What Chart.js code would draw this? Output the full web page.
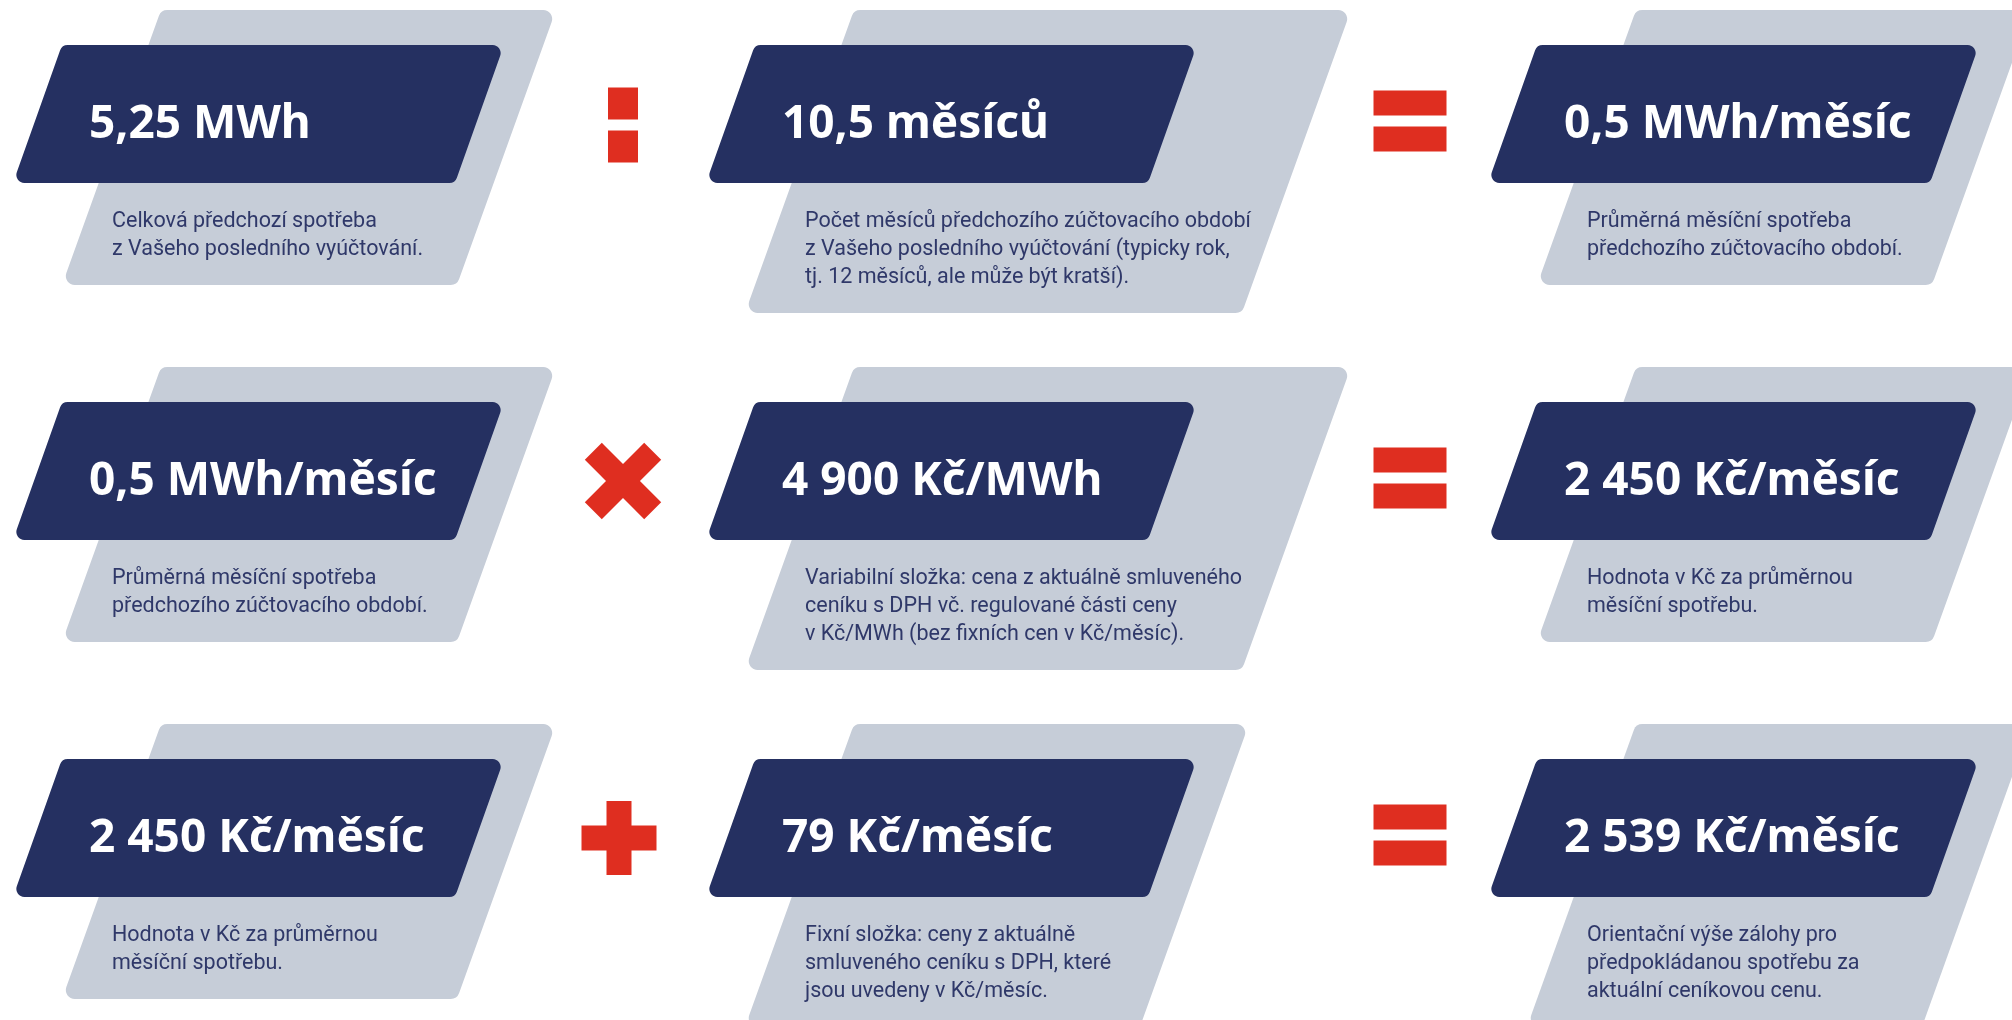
<!DOCTYPE html>
<html lang="cs">
<head>
<meta charset="utf-8">
<title>Výpočet zálohy</title>
<script src="https://cdn.jsdelivr.net/npm/chart.js@4.4.1/dist/chart.umd.min.js"></script>
<style>
  html, body { margin: 0; padding: 0; background: #ffffff; }
  #wrap { width: 2012px; height: 1020px; }
</style>
</head>
<body>
<div id="wrap"><canvas id="chart" width="2012" height="1020"></canvas></div>
<script>
// hodnoty po řádcích: vstup (operátor) činitel = výsledek
const inputs = ['5,25 MWh', '0,5 MWh/měsíc', '2 450 Kč/měsíc'];
const factors = ['10,5 měsíců', '4 900 Kč/MWh', '79 Kč/měsíc'];
const results = ['0,5 MWh/měsíc', '2 450 Kč/měsíc', '2 539 Kč/měsíc'];
const operators = [':', '×', '+'];

const inputNotes = [
    ['Celková předchozí spotřeba', 'z Vašeho posledního vyúčtování.'],
    ['Průměrná měsíční spotřeba', 'předchozího zúčtovacího období.'],
    ['Hodnota v Kč za průměrnou', 'měsíční spotřebu.']
];
const factorNotes = [
    ['Počet měsíců předchozího zúčtovacího období', 'z Vašeho posledního vyúčtování (typicky rok,', 'tj. 12 měsíců, ale může být kratší).'],
    ['Variabilní složka: cena z aktuálně smluveného', 'ceníku s DPH vč. regulované části ceny', 'v Kč/MWh (bez fixních cen v Kč/měsíc).'],
    ['Fixní složka: ceny z aktuálně', 'smluveného ceníku s DPH, které', 'jsou uvedeny v Kč/měsíc.']
];
const resultNotes = [
    ['Průměrná měsíční spotřeba', 'předchozího zúčtovacího období.'],
    ['Hodnota v Kč za průměrnou', 'měsíční spotřebu.'],
    ['Orientační výše zálohy pro', 'předpokládanou spotřebu za', 'aktuální ceníkovou cenu.']
];

// rozvržení (v jednotkách os)
const colX = [62, 755, 1537];
const opX = [623, 1410];
const rowY0 = 45, rowStep = 357;

const NAVY = '#253061', GREY = '#c6cdd8', RED = '#df2e20', INK = '#2f3869';
const titleFont = 'bold 46px "Noto Sans"';
const noteFont = '21.5px Roboto';

const cards = [];
const ops = [];
[inputs, factors, results].forEach((col, c) => {
    const notes = [inputNotes, factorNotes, resultNotes][c];
    col.forEach((t, r) => {
        cards.push({ x: colX[c], y: rowY0 + r * rowStep, title: t, note: notes[r] });
    });
});
operators.forEach((o, r) => {
    ops.push({ x: opX[0], y: rowY0 + r * rowStep, op: o });
    ops.push({ x: opX[1], y: rowY0 + r * rowStep, op: '=' });
});

function slanted(ctx, x, y, w, h, shift, rad) {
    // rovnoběžník se zaoblenými rohy, x,y = levý horní roh
    const p = [[x, y], [x + w, y], [x + w - shift, y + h], [x - shift, y + h]];
    ctx.beginPath();
    ctx.moveTo((p[3][0] + p[0][0]) / 2, (p[3][1] + p[0][1]) / 2);
    for (let i = 0; i < 4; i++) {
        const a = p[i], b = p[(i + 1) % 4];
        ctx.arcTo(a[0], a[1], b[0], b[1], rad);
    }
    ctx.closePath();
    ctx.fill();
}

const cardPlugin = {
    id: 'cards',
    afterDatasetsDraw(chart) {
        const ctx = chart.ctx;
        const xs = chart.scales.x;
        const u = xs.getPixelForValue(1) - xs.getPixelForValue(0);
        ctx.save();

        chart.getDatasetMeta(0).data.forEach((el, i) => {
            const d = cards[i];
            const nx = el.x, ny = el.y;
            ctx.font = noteFont;
            const maxW = Math.max(...d.note.map(s => ctx.measureText(s).width));
            const gw = (maxW > 380 ? 497 : 395) * u;
            const gh = (219 + 28 * d.note.length) * u;
            ctx.fillStyle = GREY;
            slanted(ctx, nx + 99 * u, ny - 35 * u, gw, gh, gh * 0.36, 9);
            ctx.fillStyle = NAVY;
            slanted(ctx, nx, ny, 442 * u, 138 * u, 49 * u, 8);

            ctx.fillStyle = '#ffffff';
            ctx.font = titleFont;
            ctx.textBaseline = 'alphabetic';
            ctx.textAlign = 'left';
            ctx.fillText(d.title, nx + 27 * u, ny + 93 * u);

            ctx.fillStyle = INK;
            ctx.font = noteFont;
            d.note.forEach((line, k) => {
                ctx.fillText(line, nx + 50 * u, ny + (182 + 28 * k) * u);
            });
        });

        ctx.fillStyle = RED;
        chart.getDatasetMeta(1).data.forEach((el, i) => {
            const o = ops[i].op;
            const cx = el.x;
            if (o === ':') {
                const cy = el.y + 80 * u;
                ctx.fillRect(cx - 15, cy - 37.5, 30, 32);
                ctx.fillRect(cx - 15, cy + 5.5, 30, 32);
            } else if (o === '=') {
                const cy = el.y + 76 * u;
                ctx.fillRect(cx - 36.5, cy - 30.5, 73, 25);
                ctx.fillRect(cx - 36.5, cy + 5.5, 73, 25);
            } else if (o === '+') {
                const cy = el.y + 79 * u;
                ctx.fillRect(cx - 4 - 37.5, cy - 12.5, 75, 25);
                ctx.fillRect(cx - 4 - 12.5, cy - 37, 25, 74);
            } else if (o === '×') {
                const cy = el.y + 79 * u;
                ctx.save();
                ctx.translate(cx, cy);
                ctx.rotate(Math.PI / 4);
                ctx.fillRect(-42, -12, 84, 24);
                ctx.fillRect(-12, -42, 24, 84);
                ctx.restore();
            }
        });
        ctx.restore();
    }
};

function draw() {
    new Chart(document.getElementById('chart'), {
        type: 'scatter',
        data: {
            datasets: [
                { label: 'karty', data: cards, pointRadius: 0 },
                { label: 'operátory', data: ops, pointRadius: 0 }
            ]
        },
        options: {
            responsive: false,
            animation: false,
            devicePixelRatio: 1,
            events: [],
            layout: { padding: 0 },
            plugins: {
                legend: { display: false },
                tooltip: { enabled: false }
            },
            scales: {
                x: { type: 'linear', min: 0, max: 2012, display: false },
                y: { type: 'linear', min: 0, max: 1020, reverse: true, display: false }
            }
        },
        plugins: [cardPlugin]
    });
}

Promise.all([
    document.fonts.load(titleFont),
    document.fonts.load(noteFont)
]).then(draw, draw);
</script>
</body>
</html>
